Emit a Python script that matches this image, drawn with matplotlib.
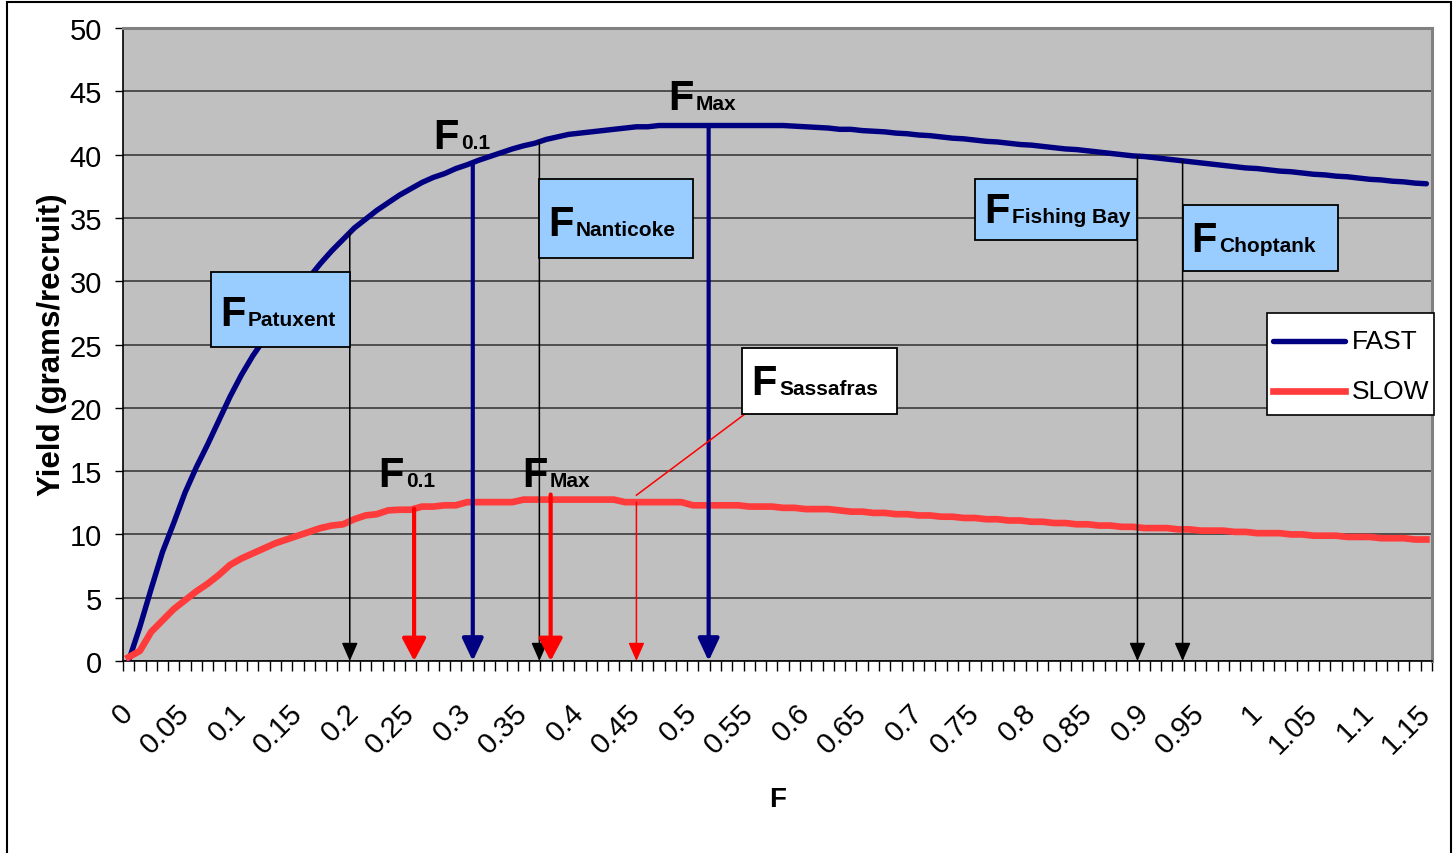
import numpy as np
import matplotlib
matplotlib.use('Agg')
import matplotlib.pyplot as plt
from matplotlib import font_manager
from matplotlib.patches import Rectangle

# fishing mortality categories 0.00 .. 1.15
f_values = np.round(np.arange(0, 116) * 0.01, 2)

yield_fast = [
    0.0, 2.7, 5.7, 8.6, 10.9, 13.3, 15.3, 17.1, 19.0, 20.9,
    22.6, 24.1, 25.4, 26.6, 27.8, 29.1, 30.3, 31.4, 32.4, 33.3,
    34.2, 34.9, 35.6, 36.2, 36.8, 37.3, 37.8, 38.2, 38.5, 38.9,
    39.2, 39.55, 39.85, 40.15, 40.45, 40.7, 40.9, 41.2, 41.4, 41.6,
    41.7, 41.8, 41.9, 42.0, 42.1, 42.2, 42.2, 42.3, 42.3, 42.3,
    42.3, 42.3, 42.3, 42.3, 42.3, 42.3, 42.3, 42.3, 42.3, 42.25,
    42.2, 42.15, 42.1, 42.0, 42.0, 41.9, 41.85, 41.8, 41.7, 41.65,
    41.55, 41.5, 41.4, 41.3, 41.25, 41.15, 41.05, 41.0, 40.9, 40.8,
    40.75, 40.65, 40.55, 40.45, 40.4, 40.3, 40.2, 40.1, 40.0, 39.9,
    39.85, 39.75, 39.65, 39.55, 39.45, 39.35, 39.25, 39.15, 39.05, 38.95,
    38.9, 38.8, 38.7, 38.65, 38.55, 38.45, 38.4, 38.3, 38.25, 38.15,
    38.05, 38.0, 37.9, 37.85, 37.75, 37.7,
]

yield_slow = [
    0.3, 0.8, 2.3, 3.2, 4.1, 4.8, 5.5, 6.1, 6.8, 7.6,
    8.1, 8.5, 8.9, 9.3, 9.6, 9.9, 10.2, 10.5, 10.7, 10.8,
    11.2, 11.5, 11.6, 11.9, 11.95, 11.95, 12.2, 12.2, 12.3, 12.3,
    12.55, 12.55, 12.55, 12.55, 12.55, 12.75, 12.75, 12.75, 12.75, 12.75,
    12.75, 12.75, 12.75, 12.75, 12.55, 12.55, 12.55, 12.55, 12.55, 12.55,
    12.3, 12.3, 12.3, 12.3, 12.3, 12.2, 12.2, 12.2, 12.1, 12.1,
    12.0, 12.0, 12.0, 11.9, 11.8, 11.8, 11.7, 11.7, 11.6, 11.6,
    11.5, 11.5, 11.4, 11.4, 11.3, 11.3, 11.2, 11.2, 11.1, 11.1,
    11.0, 11.0, 10.9, 10.9, 10.8, 10.8, 10.7, 10.7, 10.6, 10.6,
    10.5, 10.5, 10.5, 10.4, 10.4, 10.3, 10.3, 10.3, 10.2, 10.2,
    10.1, 10.1, 10.1, 10.0, 10.0, 9.9, 9.9, 9.9, 9.8, 9.8,
    9.8, 9.7, 9.7, 9.7, 9.6, 9.6,
]

x_tick_values = np.round(np.arange(0, 24) * 0.05, 2)
x_tick_labels = ['0', '0.05', '0.1', '0.15', '0.2', '0.25', '0.3', '0.35', '0.4', '0.45',
                 '0.5', '0.55', '0.6', '0.65', '0.7', '0.75', '0.8', '0.85', '0.9', '0.95',
                 '1', '1.05', '1.1', '1.15']

# reference points (F) for the two growth curves and the river systems
f01_fast, fmax_fast = 0.305, 0.514
f01_slow, fmax_slow = 0.253, 0.374
f_rivers = {'Patuxent': 0.196, 'Nanticoke': 0.364, 'Fishing Bay': 0.894, 'Choptank': 0.934}
f_sassafras = 0.450

NAVY = '#000080'
RED = '#FF3B3B'
BOX_BLUE = '#99CCFF'

names = {f.name for f in font_manager.fontManager.ttflist}
NARROW = 'Liberation Sans Narrow' if 'Liberation Sans Narrow' in names else 'Liberation Sans'
plt.rcParams['font.family'] = [NARROW, 'DejaVu Sans']


def f_label(ax, x, y, sub, big=30, small=15, dx=0.0245):
    ax.text(x, y, 'F', fontsize=big, fontweight='bold', ha='left', va='baseline', zorder=6)
    ax.text(x + dx, y, sub, fontsize=small, fontweight='bold', ha='left', va='baseline', zorder=6)


def f_box(ax, x0, x1, y0, y1, sub, color=BOX_BLUE):
    ax.add_patch(Rectangle((x0, y0), x1 - x0, y1 - y0, facecolor=color,
                           edgecolor='black', lw=1.3, zorder=5))
    f_label(ax, x0 + 0.008, y0 + (y1 - y0) * 0.3, sub)


def down_arrow(ax, x, curve, color, lw, scale, hl, hw):
    ytop = np.interp(x, f_values, curve)
    ax.annotate('', xy=(x, 0), xytext=(x, ytop),
                arrowprops=dict(arrowstyle=f'-|>,head_length={hl},head_width={hw}',
                                color=color, lw=lw, mutation_scale=scale,
                                shrinkA=0, shrinkB=0), zorder=4)


fig = plt.figure(figsize=(14.55, 8.54), dpi=100)
ax = fig.add_axes([0.0845, 0.2248, 0.8997, 0.7412])
ax.set_facecolor('#C0C0C0')

ax.plot(f_values, yield_fast, color=NAVY, lw=3.9, zorder=3, solid_capstyle='round')
ax.plot(f_values, yield_slow, color=RED, lw=4.8, zorder=3)

ax.set_xlim(-0.005, 1.155)
ax.set_ylim(0, 50)
ax.set_yticks(np.arange(0, 51, 5))
ax.yaxis.grid(True, color='#3a3a3a', lw=1.2)
ax.set_axisbelow(True)

ax.set_xticks(x_tick_values)
ax.set_xticklabels(x_tick_labels, rotation=45, ha='right', va='center',
                   rotation_mode='anchor', fontsize=21)
ax.set_xticks(np.arange(-0.005, 1.16, 0.01), minor=True)
ax.tick_params(axis='x', which='major', length=0, pad=34)
ax.tick_params(axis='x', which='minor', length=7, width=1, color='black')
ax.tick_params(axis='y', length=6, width=1, pad=9, labelsize=21)

for side in ('top', 'right'):
    ax.spines[side].set_color('#808080')
    ax.spines[side].set_linewidth(2.2)
for side in ('left', 'bottom'):
    ax.spines[side].set_color('black')
    ax.spines[side].set_linewidth(1.2)

# arrows down to the F axis
for name, fx in f_rivers.items():
    down_arrow(ax, fx, yield_fast, 'black', 1.1, 14, 0.8, 0.35)
down_arrow(ax, f01_fast, yield_fast, NAVY, 3.0, 16, 0.85, 0.4)
down_arrow(ax, fmax_fast, yield_fast, NAVY, 3.0, 16, 0.85, 0.4)
down_arrow(ax, f01_slow, yield_slow, 'red', 3.0, 16, 0.85, 0.45)
down_arrow(ax, fmax_slow, [y + 0.4 for y in yield_slow], 'red', 3.0, 16, 0.85, 0.45)
down_arrow(ax, f_sassafras, yield_slow, 'red', 1.1, 14, 0.8, 0.35)

# river boxes
f_box(ax, 0.073, 0.196, 24.8, 30.7, 'Patuxent')
f_box(ax, 0.364, 0.500, 31.8, 38.1, 'Nanticoke')
f_box(ax, 0.750, 0.894, 33.25, 38.1, 'Fishing Bay')
f_box(ax, 0.934, 1.072, 30.8, 36.0, 'Choptank')
f_box(ax, 0.544, 0.681, 19.5, 24.7, 'Sassafras', color='white')
ax.plot([0.546, 0.450], [19.5, 13.1], color='red', lw=1.1, zorder=4)

# reference point labels
f_label(ax, 0.270, 40.5, '0.1')
f_label(ax, 0.478, 43.6, 'Max')
f_label(ax, 0.221, 13.8, '0.1')
f_label(ax, 0.349, 13.8, 'Max')

# legend
ax.add_patch(Rectangle((0.874, 0.389), 0.1275, 0.161, transform=ax.transAxes,
                       facecolor='white', edgecolor='black', lw=1.2, zorder=7, clip_on=False))
ax.plot([0.8785, 0.9335], [0.5055, 0.5055], transform=ax.transAxes, color=NAVY, lw=3.9,
        solid_capstyle='round', zorder=8, clip_on=False)
ax.plot([0.8785, 0.9335], [0.4265, 0.4265], transform=ax.transAxes, color=RED, lw=4.8,
        zorder=8, clip_on=False)
ax.text(0.939, 0.5055, 'FAST', transform=ax.transAxes, fontsize=19, va='center', zorder=8)
ax.text(0.939, 0.4265, 'SLOW', transform=ax.transAxes, fontsize=19, va='center', zorder=8)

fig.text(0.0357, 0.596, 'Yield (grams/recruit)', rotation=90, ha='center', va='center',
         fontsize=22.5, fontweight='bold', family=['Liberation Sans', 'DejaVu Sans'])
fig.text(0.5347, 0.063, 'F', ha='center', va='center', fontsize=20, fontweight='bold',
         family=['Liberation Sans', 'DejaVu Sans'])

fig.add_artist(Rectangle((0.0045, -0.01), 0.9927, 1.007, transform=fig.transFigure,
                         facecolor='none', edgecolor='black', lw=1.5))

fig.savefig('out.png', dpi=100)
